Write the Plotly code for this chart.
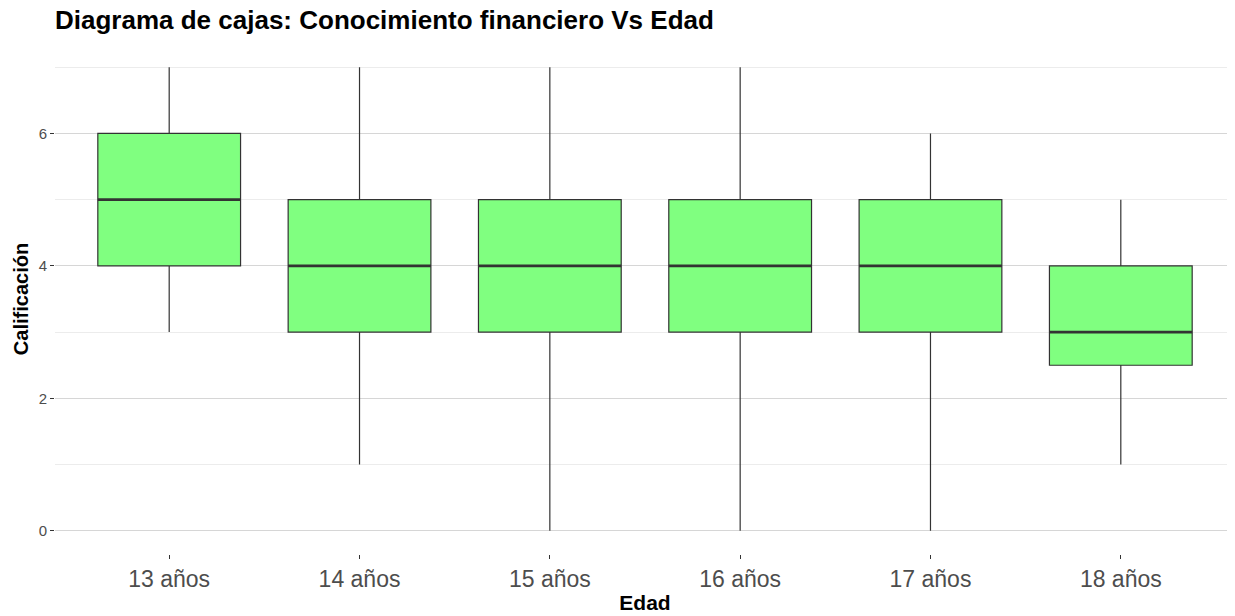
import plotly.graph_objects as go

categories = ["13 años", "14 años", "15 años", "16 años", "17 años", "18 años"]
lower = [3, 1, 0, 0, 0, 1]
q1 = [4, 3, 3, 3, 3, 2.5]
median = [5, 4, 4, 4, 4, 3]
q3 = [6, 5, 5, 5, 5, 4]
upper = [7, 7, 7, 7, 6, 5]

pos = list(range(len(categories)))
half = 0.375

fig = go.Figure()
fig.add_trace(go.Box(
    x=pos, q1=q1, median=median, q3=q3, lowerfence=lower, upperfence=upper,
    fillcolor="#80FF80", line=dict(color="#333333", width=1.2),
    width=0.75, whiskerwidth=0, boxpoints=False, showlegend=False,
    hoverinfo="skip",
))
mx, my = [], []
for p, m in zip(pos, median):
    mx += [p - half, p + half, None]
    my += [m, m, None]
fig.add_trace(go.Scatter(x=mx, y=my, mode="lines",
                         line=dict(color="#333333", width=2.6),
                         showlegend=False, hoverinfo="skip"))

# page body adds an 8px offset, so the figure is sized/margined to compensate
fig.update_layout(
    width=1227, height=608,
    margin=dict(l=47, r=0, t=36, b=62, autoexpand=False),
    plot_bgcolor="white", paper_bgcolor="white",
    font=dict(family="Liberation Sans, Arial, sans-serif", color="#4d4d4d"),
    title=dict(text="<b>Diagrama de cajas: Conocimiento financiero Vs Edad</b>",
               x=0, xref="paper", xanchor="left", y=1 - 12/608, yref="container",
               yanchor="middle", font=dict(size=26, color="black"), automargin=False),
    xaxis=dict(range=[-0.6, 5.6], tickvals=pos, ticktext=categories,
               showgrid=False, zeroline=False, showline=False, automargin=False,
               ticks="outside", ticklen=4, tickcolor="#333333", tickwidth=1.2,
               tickfont=dict(size=23, color="#4d4d4d"),
               title=dict(text="<b>Edad</b>", font=dict(size=21, color="black"), standoff=4)),
    yaxis=dict(range=[-0.35, 7.35], tickvals=[0, 2, 4, 6], automargin=False,
               showgrid=True, gridcolor="#d6d6d6", gridwidth=1.2, zeroline=False,
               showline=False, ticks="outside", ticklen=4, tickcolor="#333333", tickwidth=1.2,
               tickfont=dict(size=15, color="#4d4d4d"),
               minor=dict(tickvals=[1, 3, 5, 7], showgrid=True, gridcolor="#ececec", gridwidth=1),
               title=dict(text="<b>Calificación</b>", font=dict(size=20, color="black"), standoff=4)),
)

fig.write_html("out.html")
